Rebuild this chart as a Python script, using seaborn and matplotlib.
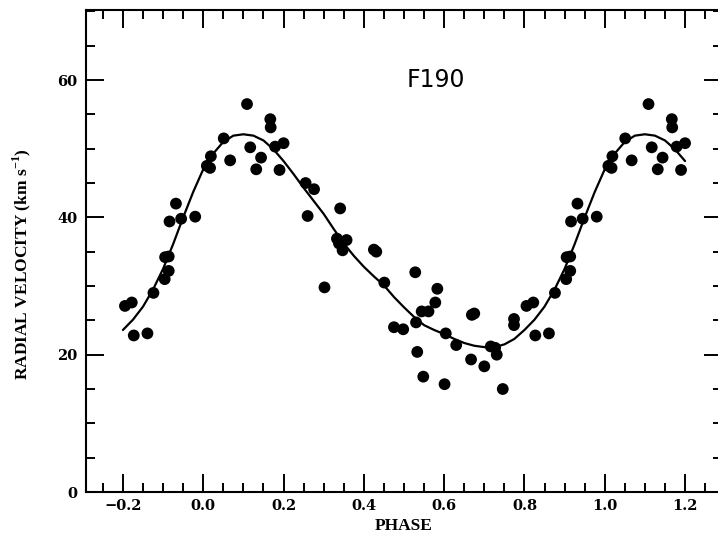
import numpy as np
import pandas as pd
import matplotlib
matplotlib.use("Agg")
import matplotlib.pyplot as plt
import seaborn as sns
from matplotlib.ticker import MultipleLocator

# Observed radial velocities (phase in [0, 1))
phase_obs = [0.009, 0.017, 0.019, 0.051, 0.067, 0.109, 0.117, 0.132, 0.144, 0.167,
             0.168, 0.179, 0.190, 0.200, 0.255, 0.276, 0.260, 0.302, 0.333, 0.338,
             0.357, 0.347, 0.341, 0.425, 0.431, 0.451, 0.475, 0.498, 0.528, 0.530,
             0.533, 0.544, 0.548, 0.561, 0.578, 0.583, 0.601, 0.604, 0.630, 0.667,
             0.669, 0.675, 0.700, 0.716, 0.727, 0.731, 0.746, 0.774, 0.774, 0.805,
             0.822, 0.827, 0.861, 0.876, 0.904, 0.905, 0.914, 0.914, 0.916, 0.932,
             0.945, 0.980]
rv_obs = [47.5, 47.2, 48.9, 51.5, 48.3, 56.5, 50.2, 47.0, 48.7, 54.3,
          53.1, 50.3, 46.9, 50.8, 45.0, 44.1, 40.2, 29.8, 36.9, 36.2,
          36.7, 35.2, 41.3, 35.3, 35.0, 30.5, 24.0, 23.7, 32.0, 24.7,
          20.4, 26.3, 16.8, 26.3, 27.6, 29.6, 15.7, 23.1, 21.4, 19.3,
          25.8, 26.0, 18.3, 21.2, 21.0, 20.0, 15.0, 25.2, 24.3, 27.1,
          27.6, 22.8, 23.1, 29.0, 31.0, 34.2, 34.3, 32.2, 39.4, 42.0,
          39.8, 40.1]

# Fitted velocity curve, phase -0.2 .. 1.2 in 0.025 steps
curve_phase = np.round(np.arange(-0.2, 1.2001, 0.025), 3)
curve_rv = [23.6, 25.1, 27.0, 29.5, 32.5, 36.1, 40.0, 43.7,
            47.0, 49.3, 51.0, 51.9, 52.1, 51.9, 51.2, 49.9, 48.2, 46.3,
            44.3, 42.4, 40.5, 38.3, 36.2, 34.4, 32.8, 31.4, 30.1, 28.4,
            26.9, 25.5, 24.3, 23.6, 23.0, 22.3, 21.7, 21.3, 21.1, 21.1,
            21.5, 22.3, 23.6, 25.1, 27.0, 29.5, 32.5, 36.1, 40.0, 43.7,
            47.0, 49.3, 51.0, 51.9, 52.1, 51.9, 51.2, 49.9, 48.2]

x_ticks = [-0.2, 0.0, 0.2, 0.4, 0.6, 0.8, 1.0, 1.2]
x_ticklabels = ["\u22120.2", "0.0", "0.2", "0.4", "0.6", "0.8", "1.0", "1.2"]
y_ticks = [0, 20, 40, 60]
y_ticklabels = ["0", "20", "40", "60"]

# Phase-folded points repeated outside [0, 1)
ph = list(phase_obs)
rv = list(rv_obs)
for p, v in zip(phase_obs, rv_obs):
    if p >= 0.8:
        ph.append(p - 1.0); rv.append(v)
    if p <= 0.2:
        ph.append(p + 1.0); rv.append(v)
pts = pd.DataFrame({"phase": ph, "rv": rv})
curve = pd.DataFrame({"phase": curve_phase, "rv": curve_rv})

sns.set_theme(style="ticks")
plt.rcParams["mathtext.fontset"] = "custom"
plt.rcParams["mathtext.bf"] = "Liberation Serif:bold"
plt.rcParams["mathtext.rm"] = "Liberation Serif:bold"

fig = plt.figure(figsize=(7.18, 5.37), dpi=100)
ax = fig.add_axes([86 / 718, 45 / 537, 636 / 718, 482 / 537])

sns.lineplot(data=curve, x="phase", y="rv", color="black", lw=1.6, ax=ax, sort=False)
sns.scatterplot(data=pts, x="phase", y="rv", color="black", s=72, edgecolor="none",
                ax=ax, zorder=3)

ax.set_xlim(-0.292, 1.292)
ax.set_ylim(0, 70.2)
ax.set_xticks(x_ticks)
ax.set_xticklabels(x_ticklabels)
ax.set_yticks(y_ticks)
ax.set_yticklabels(y_ticklabels)
ax.xaxis.set_minor_locator(MultipleLocator(0.05))
ax.yaxis.set_minor_locator(MultipleLocator(5))

for s in ax.spines.values():
    s.set_linewidth(1.5)
    s.set_color("black")
ax.tick_params(which="both", direction="in", top=True, right=True,
               width=1.4, color="black")
ax.tick_params(which="major", length=13)
ax.tick_params(which="minor", length=6.5)
ax.tick_params(axis="x", which="major", pad=5)
ax.tick_params(axis="y", which="major", pad=6)
for lab in ax.get_xticklabels() + ax.get_yticklabels():
    lab.set_fontfamily("DejaVu Serif")
    lab.set_fontweight("bold")
    lab.set_fontsize(10.5)
    lab.set_color("black")

ax.set_xlabel("PHASE", fontfamily="Liberation Serif", fontweight="bold",
              fontsize=12.5, labelpad=4, color="black")
ax.set_ylabel("RADIAL VELOCITY (km s$^{\\mathbf{-1}}$)", fontfamily="Liberation Serif",
              fontweight="bold", fontsize=12.5, color="black")
ax.yaxis.set_label_coords(-0.083, 0.473)

ax.text(0.58, 59.0, "F190", ha="center", va="baseline", fontsize=17,
        fontfamily="DejaVu Sans", color="black")

fig.savefig("out.png", dpi=100)
